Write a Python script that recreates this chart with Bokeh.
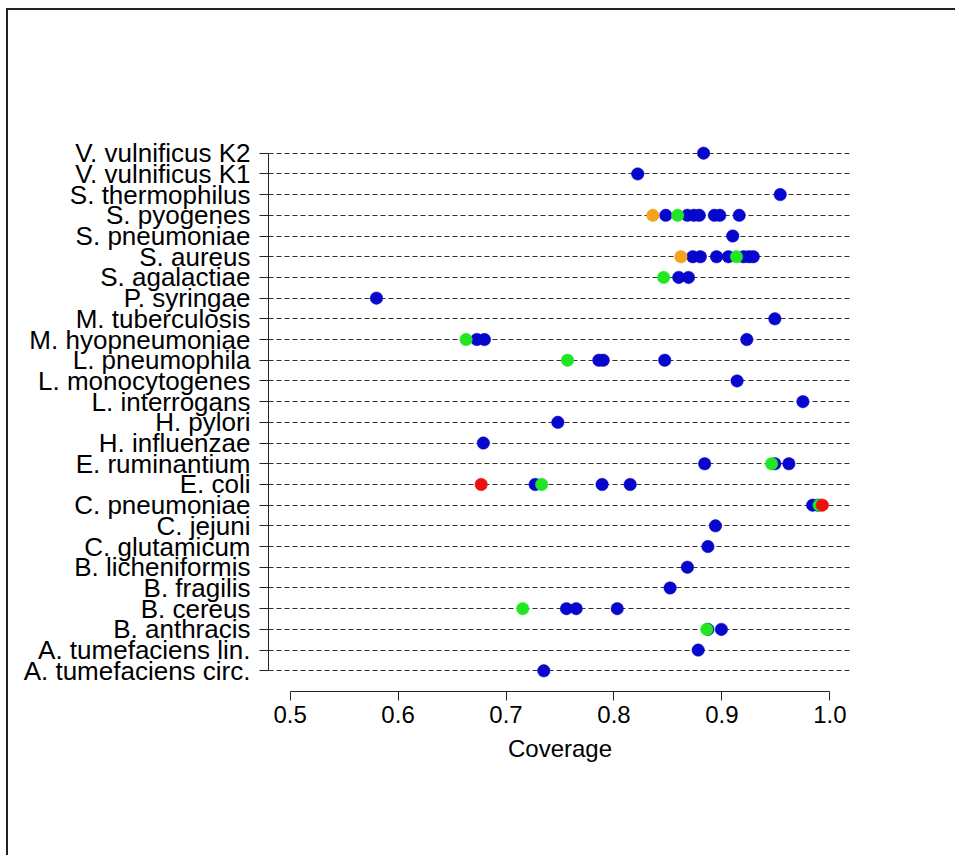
from bokeh.plotting import figure
from bokeh.models import (Range1d, LinearAxis, FixedTicker, NumeralTickFormatter,
                          ColumnDataSource, Grid)
from bokeh.embed import file_html
from bokeh.resources import INLINE

# Species, bottom (1) to top (26)
species = [
    "A. tumefaciens circ.", "A. tumefaciens lin.", "B. anthracis", "B. cereus",
    "B. fragilis", "B. licheniformis", "C. glutamicum", "C. jejuni",
    "C. pneumoniae", "E. coli", "E. ruminantium", "H. influenzae", "H. pylori",
    "L. interrogans", "L. monocytogenes", "L. pneumophila", "M. hyopneumoniae",
    "M. tuberculosis", "P. syringae", "S. agalactiae", "S. aureus",
    "S. pneumoniae", "S. pyogenes", "S. thermophilus", "V. vulnificus K1",
    "V. vulnificus K2",
]

blue_species = [
    "V. vulnificus K2", "V. vulnificus K1", "S. thermophilus",
    "S. pyogenes", "S. pyogenes", "S. pyogenes", "S. pyogenes", "S. pyogenes", "S. pyogenes", "S. pyogenes",
    "S. pneumoniae",
    "S. aureus", "S. aureus", "S. aureus", "S. aureus", "S. aureus", "S. aureus", "S. aureus",
    "S. agalactiae", "S. agalactiae",
    "P. syringae", "M. tuberculosis",
    "M. hyopneumoniae", "M. hyopneumoniae", "M. hyopneumoniae",
    "L. pneumophila", "L. pneumophila", "L. pneumophila",
    "L. monocytogenes", "L. interrogans", "H. pylori", "H. influenzae",
    "E. ruminantium", "E. ruminantium", "E. ruminantium",
    "E. coli", "E. coli", "E. coli",
    "C. pneumoniae", "C. pneumoniae",
    "C. jejuni", "C. glutamicum", "B. licheniformis", "B. fragilis",
    "B. cereus", "B. cereus", "B. cereus",
    "B. anthracis", "B. anthracis",
    "A. tumefaciens lin.", "A. tumefaciens circ.",
]
blue_values = [
    0.883, 0.822, 0.954,
    0.848, 0.868, 0.874, 0.879, 0.893, 0.898, 0.916,
    0.910,
    0.873, 0.880, 0.895, 0.906, 0.920, 0.925, 0.929,
    0.860, 0.869,
    0.580, 0.949,
    0.673, 0.680, 0.923,
    0.786, 0.790, 0.847,
    0.914, 0.975, 0.748, 0.679,
    0.884, 0.949, 0.962,
    0.727, 0.789, 0.815,
    0.984, 0.989,
    0.894, 0.887, 0.868, 0.852,
    0.756, 0.765, 0.803,
    0.887, 0.8995,
    0.878, 0.735,
]

green_species = ["S. pyogenes", "S. aureus", "S. agalactiae", "M. hyopneumoniae",
                 "L. pneumophila", "E. ruminantium", "E. coli", "C. pneumoniae",
                 "B. cereus", "B. anthracis"]
green_values = [0.859, 0.9135, 0.846, 0.663, 0.757, 0.946, 0.733, 0.990, 0.7155, 0.886]

orange_species = ["S. pyogenes", "S. aureus"]
orange_values = [0.836, 0.862]

red_species = ["E. coli", "C. pneumoniae"]
red_values = [0.677, 0.993]

x_ticks = [0.5, 0.6, 0.7, 0.8, 0.9, 1.0]
x_label = "Coverage"

FONT = "Liberation Sans"

row_of = {s: i + 1 for i, s in enumerate(species)}
rows = list(range(1, len(species) + 1))

n = len(species)
pad_y = (n - 1) * 0.04
p = figure(
    width=955, height=855,
    output_backend="svg", toolbar_location=None,
    x_range=Range1d(0.48, 1.02),
    y_range=Range1d(1 - pad_y, n + pad_y),
    x_axis_type=None, y_axis_type=None,
    min_border_left=268, min_border_right=104,
    min_border_top=132, min_border_bottom=164,
    background_fill_color="white", border_fill_color=None,
    outline_line_color=None,
    styles={
        "background-color": "white",
        "background-image": "linear-gradient(#222,#222), linear-gradient(#222,#222)",
        "background-size": "2px 100%, 100% 2px",
        "background-position": "6px 8px, 6px 8px",
        "background-repeat": "no-repeat",
    },
)

# Y axis with species labels
yax = LinearAxis(
    ticker=FixedTicker(ticks=rows),
    major_label_overrides={r: s for r, s in zip(rows, species)},
    bounds=(1, n),
)
yax.major_tick_out = 9
yax.major_tick_in = 0
yax.minor_tick_line_color = None
yax.axis_line_color = "#222222"
yax.major_tick_line_color = "#222222"
yax.major_label_standoff = 9
yax.major_label_text_font = FONT
yax.major_label_text_font_size = "26px"
yax.major_label_text_color = "black"
p.add_layout(yax, "left")

xax = LinearAxis(
    ticker=FixedTicker(ticks=x_ticks),
    formatter=NumeralTickFormatter(format="0.0"),
    bounds=(x_ticks[0], x_ticks[-1]),
    axis_label=x_label,
)
xax.major_tick_out = 9
xax.major_tick_in = 0
xax.minor_tick_line_color = None
xax.axis_line_color = "#222222"
xax.major_tick_line_color = "#222222"
xax.major_label_standoff = 5
xax.major_label_text_font = FONT
xax.major_label_text_font_size = "24px"
xax.major_label_text_color = "black"
xax.axis_label_text_font = FONT
xax.axis_label_text_font_size = "24px"
xax.axis_label_text_font_style = "normal"
xax.axis_label_text_color = "black"
xax.axis_label_standoff = 9
p.add_layout(xax, "below")

# Dashed row lines
p.add_layout(Grid(dimension=1, ticker=FixedTicker(ticks=rows),
                  grid_line_color="#333333", grid_line_dash="5 3", grid_line_width=1))

def draw(sp, vals, color):
    src = ColumnDataSource(dict(x=vals, y=[row_of[s] for s in sp]))
    p.scatter("x", "y", source=src, size=12.5, fill_color=color, line_color=color, line_width=0.5)

draw(blue_species, blue_values, "#0606cc")
draw(green_species, green_values, "#22e622")
draw(orange_species, orange_values, "#f5a21e")
draw(red_species, red_values, "#ee1010")

open("out.html", "w").write(file_html(p, INLINE))
